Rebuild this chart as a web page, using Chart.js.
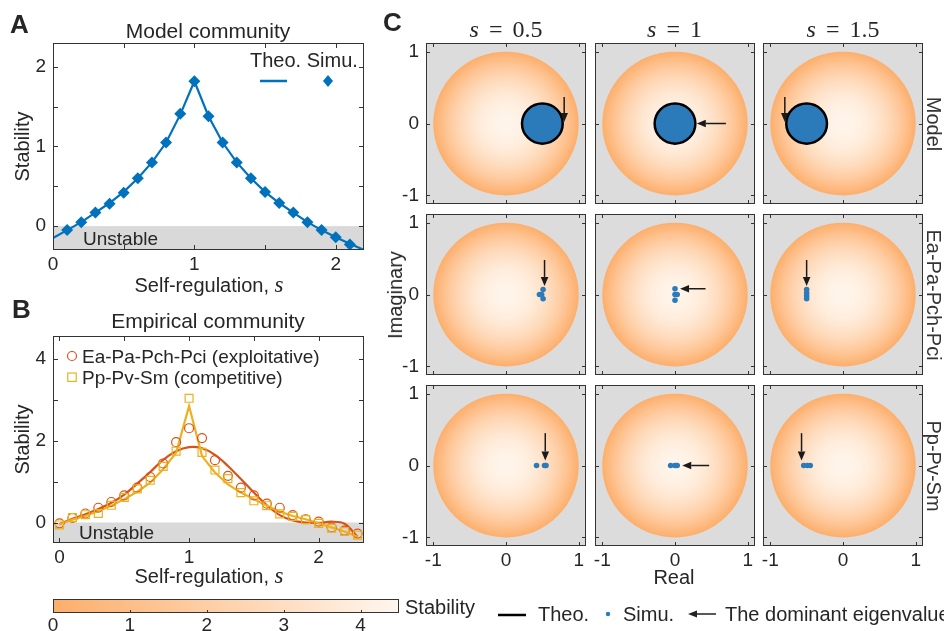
<!DOCTYPE html>
<html><head><meta charset="utf-8">
<script src="https://cdn.jsdelivr.net/npm/chart.js@4.4.1/dist/chart.umd.min.js"></script>
<style>
html,body{margin:0;padding:0;background:#fff}
#fig{position:relative;width:944px;height:631px;overflow:hidden;font-family:'Liberation Sans',Arial,Helvetica,sans-serif;color:#262626}
#fig canvas{position:absolute}
.t{position:absolute;line-height:1;white-space:nowrap;transform:translateY(-50%)}
.c{transform:translate(-50%,-50%)}
.rl{transform:translate(-50%,-50%) rotate(-90deg)}
.rr{transform:translate(-50%,-50%) rotate(90deg)}
.m{font-family:'Liberation Serif','Times New Roman',serif}
.b{font-weight:bold}
svg{position:absolute;left:0;top:0;overflow:visible}
</style></head><body><div id="fig">
<div class="t b" style="left:10px;top:24px;font-size:26px">A</div>
<div class="t c" style="left:208px;top:30px;font-size:21px">Model community</div>
<div class="t" style="left:250px;top:60px;font-size:20px">Theo. Simu.</div>
<div class="t" style="left:83px;top:238px;font-size:19px">Unstable</div>
<div class="t c" style="left:209px;top:284px;font-size:20px">Self-regulation, <i class="m" style="font-size:23px">s</i></div>

<div class="t b" style="left:12px;top:309px;font-size:26px">B</div>
<div class="t c" style="left:208px;top:320px;font-size:21px">Empirical community</div>
<div class="t" style="left:82px;top:356px;font-size:19px">Ea-Pa-Pch-Pci (exploitative)</div>
<div class="t" style="left:82px;top:377px;font-size:19px">Pp-Pv-Sm (competitive)</div>
<div class="t" style="left:79px;top:532px;font-size:19px">Unstable</div>
<div class="t c" style="left:209px;top:575px;font-size:20px">Self-regulation, <i class="m" style="font-size:23px">s</i></div>

<div class="t b" style="left:383px;top:22px;font-size:26px">C</div>
<div id="ctext"></div>
<div class="t rl" style="left:395px;top:295px;font-size:20px">Imaginary</div>
<div class="t c" style="left:674px;top:577px;font-size:20px">Real</div>

<div class="t" style="left:405px;top:607px;font-size:20px">Stability</div>
<div class="t" style="left:538px;top:614px;font-size:20px">Theo.</div>
<div class="t" style="left:623px;top:614px;font-size:20px">Simu.</div>
<div class="t" style="left:725px;top:614px;font-size:20px">The dominant eigenvalue</div>

<svg width="944" height="631">
  <line x1="260" y1="81" x2="287" y2="81" stroke="#0072BD" stroke-width="2.5"/>
  <polygon points="328,75 333,81 328,87 323,81" fill="#0072BD"/>
  <circle cx="72" cy="356" r="4.5" fill="none" stroke="#D95319" stroke-width="1.2"/>
  <rect x="67.8" y="373" width="8.4" height="8.4" fill="none" stroke="#EDB120" stroke-width="1.2"/>
  <line x1="498" y1="615" x2="526" y2="615" stroke="#000" stroke-width="2.5"/>
  <circle cx="608" cy="614" r="2.2" fill="#2b7bba"/>
  <line x1="716" y1="614" x2="695" y2="614" stroke="#222" stroke-width="1.5"/>
  <polygon points="688,614 697,610.5 697,617.5" fill="#222"/>
</svg>
</div>
<script>
// ---------- data ----------
const sA = [0,0.1,0.2,0.3,0.4,0.5,0.6,0.7,0.8,0.9,1.0,1.1,1.2,1.3,1.4,1.5,1.6,1.7,1.8,1.9,2.0,2.1,2.2];
const theoA = [-0.15,-0.05,0.05,0.17,0.29,0.43,0.6,0.8,1.05,1.4,1.82,1.38,1.05,0.8,0.6,0.43,0.29,0.17,0.05,-0.05,-0.14,-0.22,-0.3];
const simuSA = [0.1,0.2,0.3,0.4,0.5,0.6,0.7,0.8,0.9,1.0,1.1,1.2,1.3,1.4,1.5,1.6,1.7,1.8,1.9,2.0,2.1];
const simuA = [-0.05,0.05,0.17,0.28,0.42,0.6,0.8,1.05,1.41,1.82,1.38,1.05,0.8,0.6,0.43,0.29,0.17,0.05,-0.05,-0.14,-0.23];

const sB = [0,0.1,0.2,0.3,0.4,0.5,0.6,0.7,0.8,0.9,1.0,1.1,1.2,1.3,1.4,1.5,1.6,1.7,1.8,1.9,2.0,2.1,2.2,2.3];
const theoExploit = [-0.04,0.09,0.2,0.33,0.48,0.68,0.95,1.23,1.53,1.74,1.84,1.81,1.65,1.38,1.06,0.73,0.42,0.18,0.05,0.0,-0.01,0.02,-0.03,-0.35];
const simuExploit = [-0.02,0.11,0.22,0.36,0.5,0.66,0.85,1.11,1.44,1.96,2.3,2.06,1.52,1.14,0.85,0.66,0.46,0.36,0.18,0.08,0.02,-0.12,-0.2,-0.27];
const theoCompet = [-0.05,0.07,0.16,0.28,0.41,0.57,0.75,0.97,1.3,1.7,2.84,1.62,1.22,0.93,0.73,0.57,0.41,0.27,0.16,0.08,-0.02,-0.12,-0.22,-0.35];
const simuCompet = [-0.06,0.12,0.19,0.22,0.42,0.61,0.82,1.03,1.37,1.74,3.03,1.71,1.28,1.07,0.73,0.53,0.41,0.21,0.15,0.07,-0.02,-0.14,-0.22,-0.31];

const sLabels = ['0.5','1','1.5'];
const rowLabels = ['Model','Ea-Pa-Pch-Pci','Pp-Pv-Sm'];
const stabilityRadius = 1;
const theoCenter = [0.5, 0, -0.5];
const theoRadius = 0.28;
const simuDiskRadius = 0.275;
const exploitRe = [[0.51,0.46,0.49,0.51],[0,0,0.03,0],[-0.5,-0.5,-0.5,-0.5]];
const exploitIm = [[0.07,0,0,-0.06],[0.08,0,0,-0.08],[0.07,0.02,-0.02,-0.06]];
const competRe = [[0.42,0.53,0.55],[-0.06,0.0,0.03],[-0.54,-0.49,-0.45]];
const competIm = [[0,0,0],[0,0,0],[0,0,0]];
const arrowFrom = [[[0.8,0.37],[0.7,0],[-0.8,0.37]],[[0.53,0.48],[0.42,0.08],[-0.5,0.48]],[[0.54,0.45],[0.47,0],[-0.57,0.45]]];
const arrowTo   = [[[0.8,0.02],[0.3,0],[-0.8,0.02]],[[0.53,0.12],[0.07,0.08],[-0.5,0.12]],[[0.54,0.07],[0.1,0],[-0.57,0.07]]];
const cbMin = 0, cbMax = 4.5, diskCenterValue = 4.4;

// ---------- style ----------
const BLUE='#0072BD', RED='#D95319', YEL='#EDB120', DOT='#2b7bba', AX='#333333';
const FONT="'Liberation Sans', Arial, Helvetica, sans-serif";
Chart.defaults.font.family=FONT; Chart.defaults.color='#262626';
Chart.defaults.animation=false; Chart.defaults.responsive=false; Chart.defaults.devicePixelRatio=1;
Chart.defaults.plugins.legend.display=false; Chart.defaults.plugins.tooltip.enabled=false;

const LO=[253,174,107], HI=[255,246,237];
function cmap(v){const t=Math.max(0,Math.min(1,(v-cbMin)/(cbMax-cbMin)));return 'rgb('+LO.map((l,i)=>Math.round(l+(HI[i]-l)*t)).join(',')+')';}

const fig=document.getElementById('fig');
function mk(l,t,w,h){const c=document.createElement('canvas');c.width=w;c.height=h;c.style.left=l+'px';c.style.top=t+'px';c.style.width=w+'px';c.style.height=h+'px';fig.insertBefore(c,fig.firstChild);return c;}
const pts=(xs,ys)=>xs.map((x,i)=>({x:x,y:ys[i]}));

function frame(chart,len,sides){
  const {ctx,chartArea:a,scales:{x,y}}=chart;
  ctx.save();ctx.strokeStyle=AX;ctx.lineWidth=1;ctx.beginPath();
  x.ticks.forEach(t=>{const p=Math.round(x.getPixelForValue(t.value))+0.5;
    if(sides.b){ctx.moveTo(p,a.bottom);ctx.lineTo(p,a.bottom-len);} if(sides.t){ctx.moveTo(p,a.top);ctx.lineTo(p,a.top+len);}});
  if(sides.y) y.ticks.forEach(t=>{const p=Math.round(y.getPixelForValue(t.value))+0.5;
    ctx.moveTo(a.left,p);ctx.lineTo(a.left+len,p);ctx.moveTo(a.right,p);ctx.lineTo(a.right-len,p);});
  ctx.stroke();
  ctx.strokeRect(Math.round(a.left)+0.5,Math.round(a.top)+0.5,Math.round(a.width)-1,Math.round(a.height)-1);
  ctx.restore();
}
const framePlugin={id:'frame',afterDatasetsDraw(c){frame(c,5,{b:1,t:1,y:1});}};
const bandPlugin={id:'band',beforeDatasetsDraw(c){const {ctx,chartArea:a,scales:{y}}=c;const y0=y.getPixelForValue(0);
  ctx.save();ctx.fillStyle='#d9d9d9';ctx.fillRect(a.left,y0,a.width,a.bottom-y0);ctx.restore();}};

function axes(xmin,xmax,xstep,ymin,ymax,ystep,xcb,ycb,yw,xh,showX,showY,ytitle){
  return {
    x:{type:'linear',min:xmin,max:xmax,afterFit:s=>{s.height=xh;},grid:{display:false,drawTicks:false},border:{display:false},
       ticks:{display:showX,stepSize:xstep,includeBounds:false,autoSkip:false,maxRotation:0,padding:3,font:{size:19},callback:xcb}},
    y:{type:'linear',min:ymin,max:ymax,afterFit:s=>{s.width=yw;},grid:{display:false,drawTicks:false},border:{display:false},
       ticks:{display:showY,stepSize:ystep,includeBounds:false,autoSkip:false,padding:7,font:{size:19},callback:ycb},
       title:ytitle?{display:true,text:ytitle,font:{size:20},color:'#262626',padding:{top:11,bottom:0}}:{display:false}}
  };
}
const intLab=v=>Number.isInteger(Math.round(v*1000)/1000)?String(Math.round(v)):'';

// ---------- Panel A ----------
new Chart(mk(0,0,372,300),{type:'scatter',
  data:{datasets:[
    {label:'Simu.',data:pts(simuSA,simuA),pointStyle:'rectRot',pointRadius:6,backgroundColor:BLUE,borderColor:BLUE,borderWidth:0},
    {label:'Theo.',data:pts(sA,theoA),showLine:true,borderColor:BLUE,borderWidth:2.2,pointRadius:0,tension:0}
  ]},
  options:{layout:{padding:{left:0,top:43,right:8,bottom:0}},
    scales:axes(0,2.2,0.5,-0.3,2.3,0.5,intLab,intLab,53,50,true,true,'Stability')},
  plugins:[bandPlugin,framePlugin]});

// ---------- Panel B ----------
new Chart(mk(0,290,372,300),{type:'scatter',
  data:{datasets:[
    {label:'Pp-Pv-Sm (competitive)',data:pts(sB,simuCompet),pointStyle:'rect',pointRadius:5.6,backgroundColor:'rgba(0,0,0,0)',borderColor:YEL,borderWidth:1.2},
    {label:'Ea-Pa-Pch-Pci (exploitative)',data:pts(sB,simuExploit),pointStyle:'circle',pointRadius:4.5,backgroundColor:'rgba(0,0,0,0)',borderColor:RED,borderWidth:1.2},
    {label:'theo competitive',data:pts(sB,theoCompet),showLine:true,borderColor:YEL,borderWidth:2.2,pointRadius:0,tension:0},
    {label:'theo exploitative',data:pts(sB,theoExploit),showLine:true,borderColor:RED,borderWidth:2.2,pointRadius:0,tension:0.35}
  ]},
  options:{layout:{padding:{left:0,top:46,right:8,bottom:0}},
    scales:axes(-0.05,2.35,0.5,-0.5,4.55,1,intLab,v=>(Math.round(v)%2===0?String(Math.round(v)):''),53,47,true,true,'Stability')},
  plugins:[bandPlugin,framePlugin]});

// ---------- Panel C ----------
const colLeft=[426,594.5,763], rowTop=[43,214,385], PW=160, PH=161, PADL=45, PADT=30;
function arrow(ctx,x0,y0,x1,y1){
  const ang=Math.atan2(y1-y0,x1-x0),L=9,W=3.8;
  const bx=x1-L*Math.cos(ang),by=y1-L*Math.sin(ang);
  ctx.save();ctx.strokeStyle='#1a1a1a';ctx.fillStyle='#1a1a1a';ctx.lineWidth=1.5;
  ctx.beginPath();ctx.moveTo(x0,y0);ctx.lineTo(bx,by);ctx.stroke();
  ctx.beginPath();ctx.moveTo(x1,y1);ctx.lineTo(bx-W*Math.sin(ang),by+W*Math.cos(ang));ctx.lineTo(bx+W*Math.sin(ang),by-W*Math.cos(ang));ctx.closePath();ctx.fill();
  ctx.restore();
}
function ellipse(ctx,x,y,cxv,cyv,rv){
  const cx=x.getPixelForValue(cxv),cy=y.getPixelForValue(cyv);
  const rx=x.getPixelForValue(cxv+rv)-cx, ry=cy-y.getPixelForValue(cyv+rv);
  ctx.beginPath();ctx.ellipse(cx,cy,rx,ry,0,0,2*Math.PI);
  return {cx,cy,rx,ry};
}
const ctext=document.getElementById('ctext');
for(let r=0;r<3;r++){for(let c=0;c<3;c++){
  const ds=[];
  if(r===1) ds.push({label:'Simu.',data:pts(exploitRe[c],exploitIm[c]),pointRadius:2.8,backgroundColor:DOT,borderWidth:0});
  if(r===2) ds.push({label:'Simu.',data:pts(competRe[c],competIm[c]),pointRadius:2.8,backgroundColor:DOT,borderWidth:0});
  const cp={id:'cpanel',
    beforeDatasetsDraw(ch){
      const {ctx,chartArea:a,scales:{x,y}}=ch;
      ctx.save();ctx.beginPath();ctx.rect(a.left,a.top,a.width,a.height);ctx.clip();
      ctx.fillStyle='#dcdcdc';ctx.fillRect(a.left,a.top,a.width,a.height);
      const e=ellipse(ctx,x,y,0,0,stabilityRadius);
      ctx.translate(e.cx,e.cy);ctx.scale(1,e.ry/e.rx);
      const g=ctx.createRadialGradient(0,0,0,0,0,e.rx);
      for(let i=0;i<=20;i++){const t=i/20;g.addColorStop(t,cmap(diskCenterValue*(1-t*t)));}
      ctx.fillStyle=g;ctx.beginPath();ctx.arc(0,0,e.rx,0,2*Math.PI);ctx.fill();
      ctx.restore();
      if(r===0){
        ctx.save();
        ellipse(ctx,x,y,theoCenter[c],0,simuDiskRadius);ctx.fillStyle=DOT;ctx.fill();
        ellipse(ctx,x,y,theoCenter[c],0,theoRadius);ctx.strokeStyle='#000';ctx.lineWidth=2.5;ctx.stroke();
        ctx.restore();
      }
    },
    afterDatasetsDraw(ch){
      const {ctx,scales:{x,y}}=ch;
      const f=arrowFrom[r][c],t=arrowTo[r][c];
      arrow(ctx,x.getPixelForValue(f[0]),y.getPixelForValue(f[1]),x.getPixelForValue(t[0]),y.getPixelForValue(t[1]));
      frame(ch,4,{b:1,t:1,y:1});
    }};
  new Chart(mk(colLeft[c]-PADL,rowTop[r]-PADT,PW+PADL+5,PH+PADT+30),{type:'scatter',data:{datasets:ds},
    options:{layout:{padding:{left:0,top:PADT,right:5,bottom:0}},
      scales:axes(-1.1,1.1,1,-1.12,1.12,1,v=>String(v),v=>String(v),PADL,30,r===2,c===0,null)},
    plugins:[cp]});
}}
sLabels.forEach((s,c)=>{const d=document.createElement('div');d.className='t c m';d.style.cssText='left:'+(colLeft[c]+PW/2)+'px;top:29px;font-size:24px;word-spacing:4px';d.innerHTML='<i>s</i> = '+s;ctext.appendChild(d);});
rowLabels.forEach((s,r)=>{const d=document.createElement('div');d.className='t rr';d.style.cssText='left:934px;top:'+(rowTop[r]+PH/2)+'px;font-size:20px;color:#333';d.textContent=s;ctext.appendChild(d);});

// ---------- Colorbar ----------
new Chart(mk(40,590,380,41),{type:'scatter',data:{datasets:[]},
  options:{layout:{padding:{left:13,top:9,right:21,bottom:0}},
    scales:{x:{type:'linear',min:cbMin,max:cbMax,afterFit:s=>{s.height=18;},grid:{display:false,drawTicks:false},border:{display:false},
      ticks:{stepSize:1,includeBounds:false,autoSkip:false,maxRotation:0,padding:1,font:{size:19}}},
      y:{display:false,min:0,max:1}}},
  plugins:[{id:'cbar',beforeDatasetsDraw(ch){
    const {ctx,chartArea:a,scales:{x}}=ch;
    const g=ctx.createLinearGradient(x.getPixelForValue(cbMin),0,x.getPixelForValue(cbMax),0);
    for(let i=0;i<=10;i++){const v=cbMin+(cbMax-cbMin)*i/10;g.addColorStop(i/10,cmap(v));}
    ctx.save();ctx.fillStyle=g;ctx.fillRect(a.left,a.top,a.width,a.height);
    ctx.strokeStyle=AX;ctx.lineWidth=1;ctx.beginPath();
    x.ticks.forEach(t=>{const p=Math.round(x.getPixelForValue(t.value))+0.5;ctx.moveTo(p,a.bottom);ctx.lineTo(p,a.bottom-3);});
    ctx.stroke();
    ctx.strokeRect(Math.round(a.left)+0.5,Math.round(a.top)+0.5,Math.round(a.width)-1,Math.round(a.height)-1);
    ctx.restore();}}]});
</script>
</body></html>
